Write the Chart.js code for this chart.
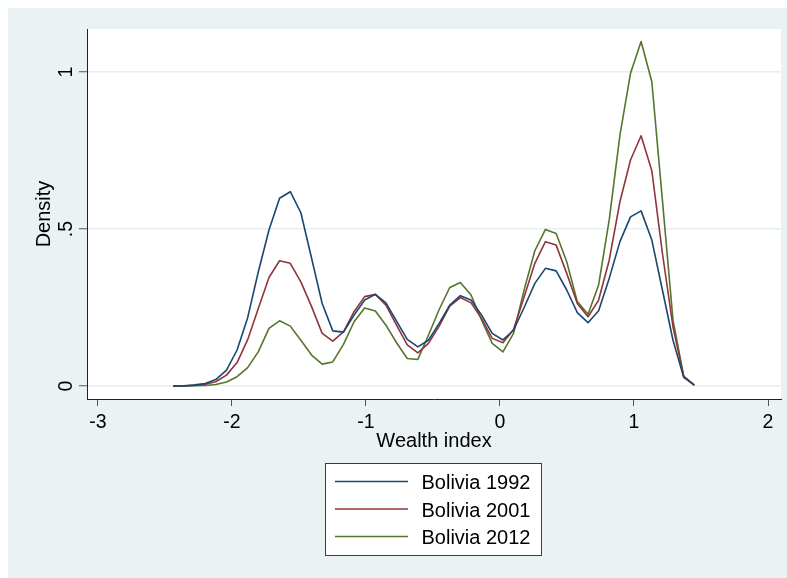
<!DOCTYPE html>
<html>
<head>
<meta charset="utf-8">
<script src="https://cdn.jsdelivr.net/npm/chart.js@4.4.1/dist/chart.umd.min.js"></script>
<style>
  html, body { margin: 0; padding: 0; background: #ffffff; }
  #wrap { width: 787px; height: 578px; }
  canvas { display: block; }
</style>
</head>
<body>
<div id="wrap"><canvas id="chart" width="787" height="578"></canvas></div>
<script>
// Kernel density estimates of the wealth index, evaluated on a 50-point grid
const wealthIndex = [
  -2.438, -2.359, -2.279, -2.200, -2.121, -2.041, -1.962, -1.883, -1.803, -1.724,
  -1.645, -1.565, -1.486, -1.406, -1.327, -1.248, -1.168, -1.089, -1.010, -0.930,
  -0.851, -0.772, -0.692, -0.613, -0.534, -0.454, -0.375, -0.296, -0.216, -0.137,
  -0.058,  0.022,  0.101,  0.181,  0.260,  0.339,  0.419,  0.498,  0.577,  0.657,
   0.736,  0.815,  0.895,  0.974,  1.053,  1.133,  1.212,  1.291,  1.371,  1.450
];
const density1992 = [
  0.000, 0.001, 0.004, 0.008, 0.021, 0.051, 0.115, 0.218, 0.365, 0.497,
  0.598, 0.619, 0.552, 0.407, 0.263, 0.176, 0.172, 0.226, 0.274, 0.292,
  0.265, 0.207, 0.149, 0.125, 0.146, 0.200, 0.258, 0.288, 0.274, 0.226,
  0.168, 0.147, 0.178, 0.251, 0.327, 0.375, 0.367, 0.306, 0.234, 0.202,
  0.240, 0.343, 0.460, 0.539, 0.558, 0.465, 0.306, 0.146, 0.028, 0.003
];
const density2001 = [
  0.000, 0.001, 0.002, 0.006, 0.014, 0.035, 0.075, 0.148, 0.248, 0.346,
  0.399, 0.391, 0.332, 0.253, 0.168, 0.143, 0.173, 0.237, 0.285, 0.292,
  0.258, 0.194, 0.131, 0.106, 0.136, 0.191, 0.255, 0.282, 0.265, 0.215,
  0.152, 0.138, 0.180, 0.285, 0.391, 0.460, 0.449, 0.359, 0.263, 0.221,
  0.274, 0.401, 0.587, 0.720, 0.797, 0.686, 0.423, 0.189, 0.030, 0.003
];
const density2012 = [
  0.000, 0.000, 0.001, 0.002, 0.005, 0.013, 0.030, 0.059, 0.110, 0.184,
  0.208, 0.191, 0.146, 0.099, 0.070, 0.077, 0.133, 0.205, 0.249, 0.239,
  0.194, 0.138, 0.088, 0.085, 0.162, 0.244, 0.314, 0.330, 0.290, 0.210,
  0.136, 0.109, 0.168, 0.308, 0.431, 0.499, 0.486, 0.396, 0.269, 0.229,
  0.322, 0.529, 0.799, 0.996, 1.097, 0.969, 0.592, 0.210, 0.032, 0.003
];
const seriesLabels = ['Bolivia 1992', 'Bolivia 2001', 'Bolivia 2012'];
const xTickValues = [-3, -2, -1, 0, 1, 2];
const xTickLabels = ['-3', '-2', '-1', '0', '1', '2'];
const yTickValues = [0, 0.5, 1];
const yTickLabels = ['0', '.5', '1'];
const xTitle = 'Wealth index';
const yTitle = 'Density';

const FONT = '"Liberation Sans", Arial, Helvetica, sans-serif';
const PANEL = '#eaf2f3';
const lineColors = ['#1a476f', '#90353b', '#55752f'];

const toPoints = ys => wealthIndex.map((x, i) => ({ x: x, y: ys[i] }));

// Graph region background: light panel with a white plot area
const backdrop = {
  id: 'backdrop',
  beforeDraw(chart) {
    const { ctx, chartArea: a } = chart;
    ctx.save();
    ctx.fillStyle = '#ffffff';
    ctx.fillRect(0, 0, chart.width, chart.height);
    ctx.fillStyle = PANEL;
    ctx.fillRect(8, 8, chart.width - 8, chart.height - 8);
    ctx.fillStyle = '#ffffff';
    ctx.fillRect(a.left, a.top, a.right - a.left, a.bottom - a.top);
    ctx.restore();
  }
};

// Axis labels, titles and the boxed legend under the axis
const annotations = {
  id: 'annotations',
  afterDraw(chart) {
    const { ctx, chartArea: a, scales } = chart;
    const xs = scales.x, ys = scales.y;
    ctx.save();
    ctx.fillStyle = '#000000';

    // x tick labels
    ctx.font = '19.5px ' + FONT;
    ctx.textAlign = 'center';
    ctx.textBaseline = 'alphabetic';
    xTickValues.forEach((v, i) => {
      ctx.fillText(xTickLabels[i], xs.getPixelForValue(v), 428);
    });

    // y tick labels, rotated
    yTickValues.forEach((v, i) => {
      ctx.save();
      ctx.translate(71.5, ys.getPixelForValue(v));
      ctx.rotate(-Math.PI / 2);
      ctx.fillText(yTickLabels[i], 0, 0);
      ctx.restore();
    });

    // axis titles
    ctx.font = '20px ' + FONT;
    ctx.fillText(xTitle, (a.left + a.right) / 2, 447);
    ctx.save();
    ctx.translate(50, (a.top + a.bottom) / 2);
    ctx.rotate(-Math.PI / 2);
    ctx.fillText(yTitle, 0, 0);
    ctx.restore();

    // legend
    const bx = 325.5, by = 463.5, bw = 216, bh = 92;
    ctx.fillStyle = '#ffffff';
    ctx.fillRect(bx, by, bw, bh);
    ctx.strokeStyle = '#3c3c3c';
    ctx.lineWidth = 1;
    ctx.strokeRect(bx, by, bw, bh);
    ctx.textAlign = 'left';
    chart.data.datasets.forEach((ds, i) => {
      const ly = 481.5 + i * 27.5;
      ctx.strokeStyle = ds.borderColor;
      ctx.lineWidth = 1.6;
      ctx.beginPath();
      ctx.moveTo(335, ly);
      ctx.lineTo(408, ly);
      ctx.stroke();
      ctx.fillStyle = '#000000';
      ctx.fillText(ds.label, 421.5, ly + 7.5);
    });
    ctx.restore();
  }
};

const datasets = [density1992, density2001, density2012].map((ys, i) => ({
  label: seriesLabels[i],
  data: toPoints(ys),
  borderColor: lineColors[i],
  backgroundColor: lineColors[i],
  borderWidth: 1.6,
  borderJoinStyle: 'round',
  pointRadius: 0,
  pointHoverRadius: 0,
  tension: 0,
  fill: false
}));

new Chart(document.getElementById('chart'), {
  type: 'line',
  data: { datasets: datasets },
  plugins: [backdrop, annotations],
  options: {
    responsive: false,
    devicePixelRatio: 1,
    animation: false,
    events: [],
    layout: { padding: { left: 0, top: 29, right: 6, bottom: 0 } },
    plugins: {
      legend: { display: false },
      tooltip: { enabled: false },
      title: { display: false }
    },
    scales: {
      x: {
        type: 'linear',
        min: -3.082,
        max: 2.097,
        afterBuildTicks: s => { s.ticks = xTickValues.map(v => ({ value: v })); },
        afterFit: s => { s.height = 179; },
        ticks: { display: false },
        grid: {
          drawOnChartArea: false,
          drawTicks: true,
          tickLength: 7,
          tickColor: '#555555',
          tickWidth: 1
        },
        border: { display: true, color: '#222222', width: 1 }
      },
      y: {
        type: 'linear',
        min: -0.041,
        max: 1.137,
        afterBuildTicks: s => { s.ticks = yTickValues.map(v => ({ value: v })); },
        afterFit: s => { s.width = 87; },
        ticks: { display: false },
        grid: {
          drawOnChartArea: true,
          color: '#e6eef0',
          lineWidth: 1.5,
          drawTicks: true,
          tickLength: 8,
          tickColor: '#555555',
          tickWidth: 1
        },
        border: { display: true, color: '#222222', width: 1 }
      }
    }
  }
});
</script>
</body>
</html>
